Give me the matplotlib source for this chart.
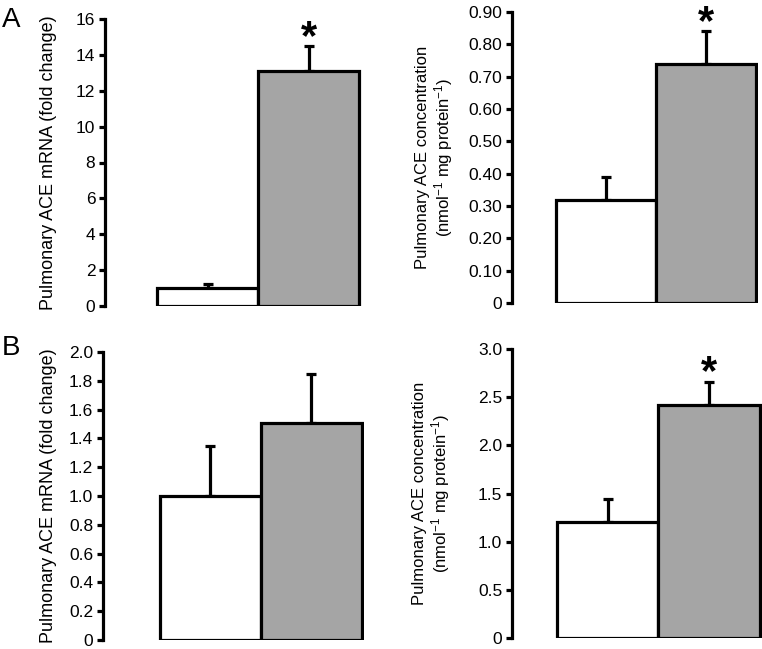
import matplotlib
matplotlib.use("Agg")
import matplotlib.pyplot as plt

plt.rcParams['font.family'] = ['Liberation Sans', 'DejaVu Sans']
plt.rcParams['mathtext.fontset'] = 'custom'
plt.rcParams['mathtext.rm'] = 'Liberation Sans'
plt.rcParams['mathtext.it'] = 'Liberation Sans:italic'

# data: [control, treated]
a_mrna = [1.0, 13.1]
a_mrna_err = [0.25, 1.4]
a_conc = [0.32, 0.74]
a_conc_err = [0.07, 0.10]
b_mrna = [1.0, 1.51]
b_mrna_err = [0.35, 0.34]
b_conc = [1.2, 2.42]
b_conc_err = [0.24, 0.24]

mrna_label = "Pulmonary ACE mRNA (fold change)"
conc_label = ("Pulmonary ACE concentration\n"
              r"(nmol$^{\mathregular{-1}}$ mg protein$^{\mathregular{-1}}$)")

a_mrna_ticks = [0, 2, 4, 6, 8, 10, 12, 14, 16]
a_mrna_ticklabels = ["0", "2", "4", "6", "8", "10", "12", "14", "16"]
a_conc_ticks = [0, .1, .2, .3, .4, .5, .6, .7, .8, .9]
a_conc_ticklabels = ["0", "0.10", "0.20", "0.30", "0.40", "0.50", "0.60", "0.70", "0.80", "0.90"]
b_mrna_ticks = [0, .2, .4, .6, .8, 1.0, 1.2, 1.4, 1.6, 1.8, 2.0]
b_mrna_ticklabels = ["0", "0.2", "0.4", "0.6", "0.8", "1.0", "1.2", "1.4", "1.6", "1.8", "2.0"]
b_conc_ticks = [0, .5, 1.0, 1.5, 2.0, 2.5, 3.0]
b_conc_ticklabels = ["0", "0.5", "1.0", "1.5", "2.0", "2.5", "3.0"]

bar_colors = ["white", "#a5a5a5"]
W, H = 762, 649
LW = 2.3

fig = plt.figure(figsize=(W / 100, H / 100), dpi=100)


def px_axes(left, right, top, bottom):
    return fig.add_axes([left / W, 1 - bottom / H, (right - left) / W, (bottom - top) / H])


def panel(ax, vals, errs, ticks, ticklabels, ylabel, xlim, star, label_x, label_size):
    ax.bar([0, 1], vals, width=1, align='edge', color=bar_colors,
           edgecolor='black', linewidth=LW, zorder=2)
    ax.errorbar([0.5, 1.5], vals, yerr=[[0, 0], errs], fmt='none', ecolor='black',
                elinewidth=LW, capsize=3.5, capthick=LW, zorder=1)
    ax.set_xlim(*xlim)
    ax.set_ylim(0, ticks[-1])
    ax.set_yticks(ticks)
    ax.set_yticklabels(ticklabels)
    ax.set_xticks([])
    for s in ['top', 'right', 'bottom']:
        ax.spines[s].set_visible(False)
    ax.spines['left'].set_linewidth(LW)
    ax.tick_params(axis='y', length=4, width=LW, labelsize=12.5, pad=3)
    ax.set_ylabel(ylabel, fontsize=label_size, linespacing=1.1)
    ax.yaxis.set_label_coords(label_x, 0.5)
    if star:
        top = vals[1] + errs[1]
        ax.annotate("*", (1.5, top), xytext=(0, -2), textcoords='offset points',
                    ha='center', va='baseline', fontsize=30, fontweight='bold',
                    annotation_clip=False)
    ax.patch.set_alpha(0)


ax1 = px_axes(105, 362, 19, 306)
panel(ax1, a_mrna, a_mrna_err, a_mrna_ticks, a_mrna_ticklabels, mrna_label,
      (-0.52, 2.03), True, (57 - 105) / 257, 13)
ax2 = px_axes(512, 758, 12, 303)
panel(ax2, a_conc, a_conc_err, a_conc_ticks, a_conc_ticklabels, conc_label,
      (-0.44, 2.02), True, (455 - 512) / 246, 12)
ax3 = px_axes(103, 364, 352, 640)
panel(ax3, b_mrna, b_mrna_err, b_mrna_ticks, b_mrna_ticklabels, mrna_label,
      (-0.56, 2.02), False, (57 - 103) / 261, 13)
ax4 = px_axes(512, 762, 349, 638)
panel(ax4, b_conc, b_conc_err, b_conc_ticks, b_conc_ticklabels, conc_label,
      (-0.44, 2.02), True, (452 - 512) / 250, 12)

fig.text(2 / W, 1 - 20 / H, "A", fontsize=20, va='center', ha='left')
fig.text(2 / W, 1 - 348 / H, "B", fontsize=20, va='center', ha='left')

fig.savefig("out.png", dpi=100)
